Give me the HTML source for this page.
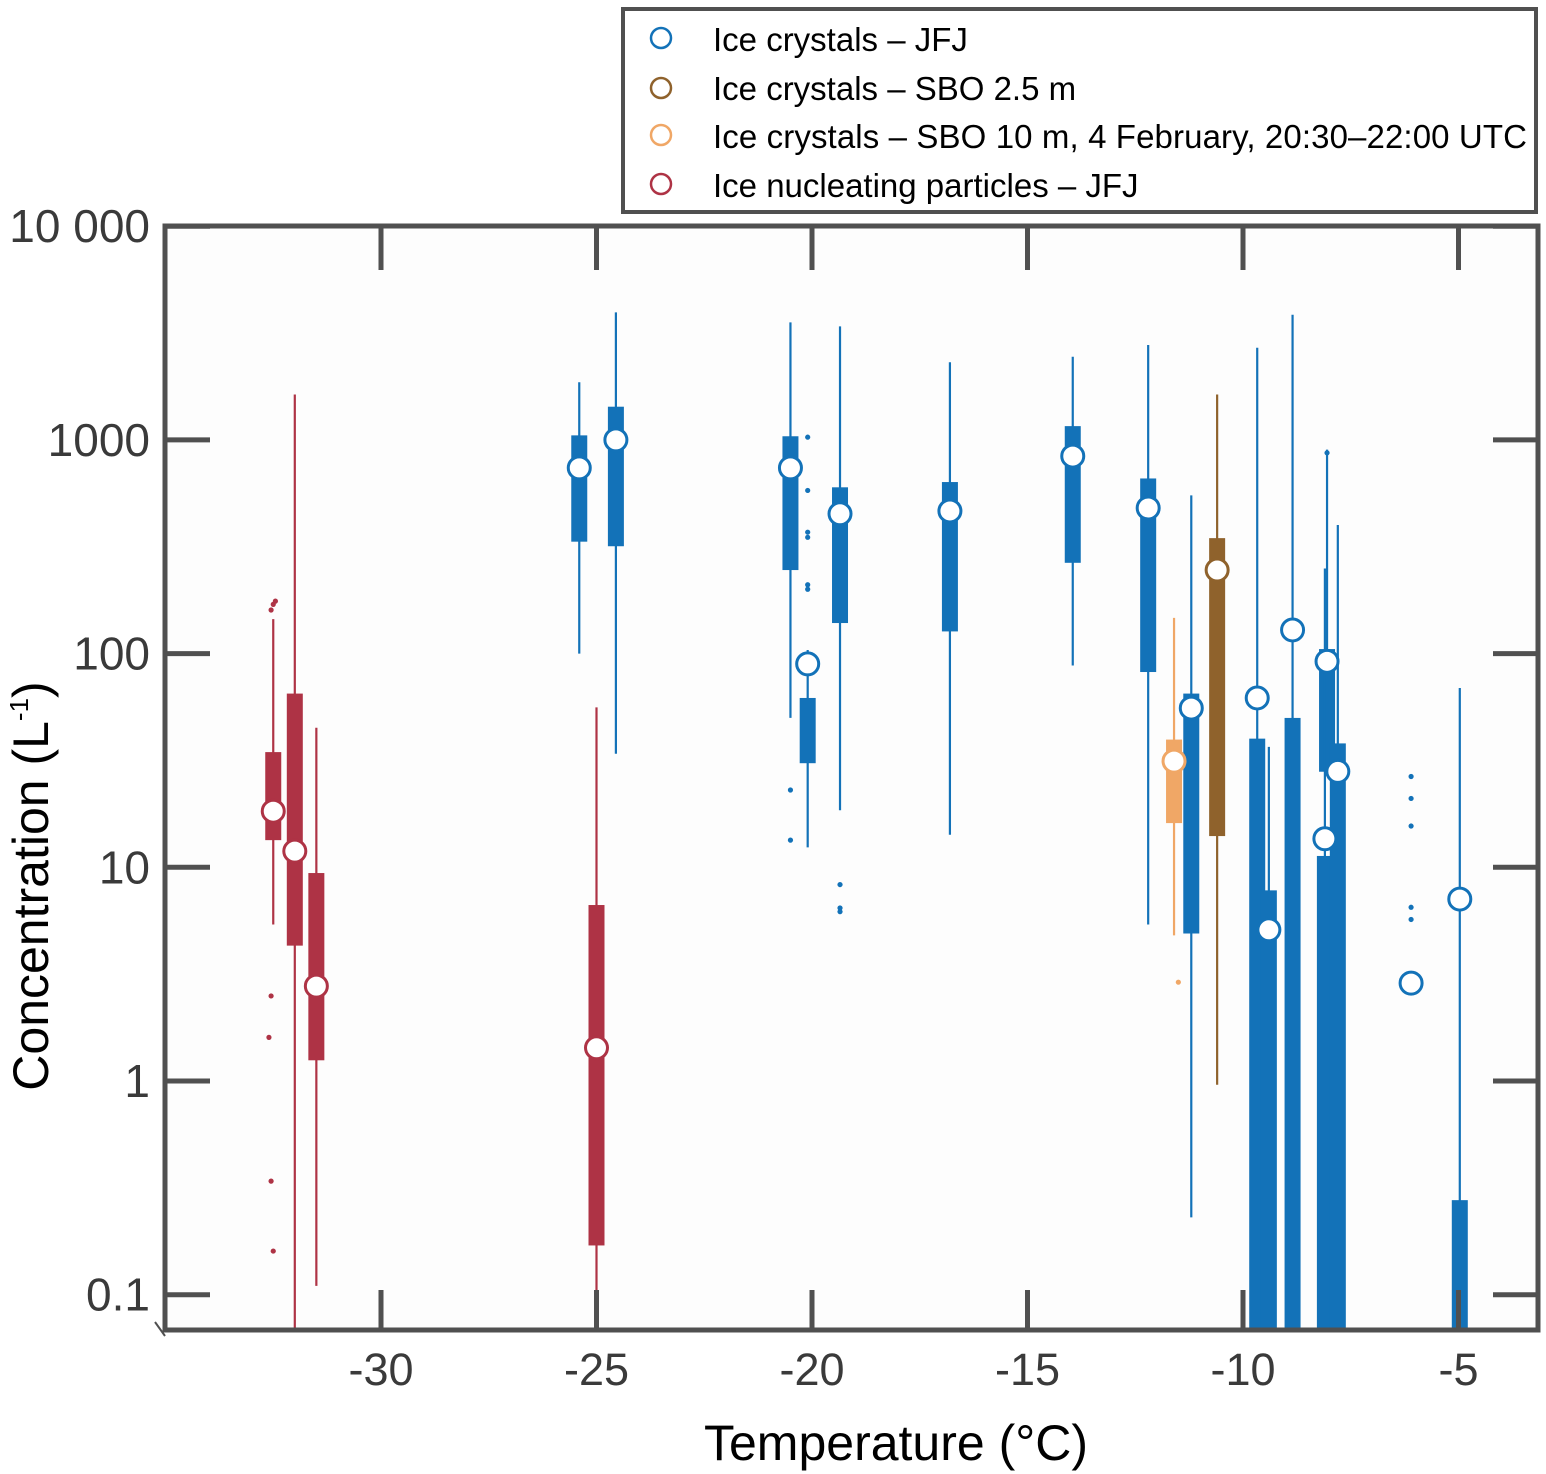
<!DOCTYPE html>
<html><head><meta charset="utf-8"><style>
body{margin:0;background:#fff;}
svg{display:block;font-family:"Liberation Sans",Arial,sans-serif;}
</style></head><body>
<svg id="chart" width="1546" height="1474" viewBox="0 0 1546 1474" xmlns="http://www.w3.org/2000/svg">
<rect x="0" y="0" width="1546" height="1474" fill="#ffffff"/>
<rect x="165" y="226" width="1373" height="1104" fill="#fdfdfd"/>
<g id="marks"></g>
<g id="axes"></g>
<text x="48" y="886" font-size="50" text-anchor="middle" transform="rotate(-90 48 886)" fill="#000">Concentration (L<tspan font-size="26" dy="-20">-1</tspan><tspan dy="20">)</tspan></text>
<text x="896" y="1460" font-size="50" text-anchor="middle" fill="#000">Temperature (°C)</text>
<g>
<rect x="623" y="9" width="913" height="203" fill="#fff" stroke="#505050" stroke-width="4"/>
<g><circle cx="661" cy="38" r="10" fill="#fff" stroke="#1372b8" stroke-width="2.5"/><text x="713" y="51" font-size="33">Ice crystals – JFJ</text></g>
<g><circle cx="661" cy="88" r="10" fill="#fff" stroke="#8f622c" stroke-width="2.5"/><text x="713" y="100" font-size="33">Ice crystals – SBO 2.5 m</text></g>
<g><circle cx="661" cy="135" r="10" fill="#fff" stroke="#f0a766" stroke-width="2.5"/><text x="713" y="148" font-size="33" textLength="814">Ice crystals – SBO 10 m, 4 February, 20:30–22:00 UTC</text></g>
<g><circle cx="661" cy="184" r="10" fill="#fff" stroke="#ae3345" stroke-width="2.5"/><text x="713" y="197" font-size="33">Ice nucleating particles – JFJ</text></g>
</g>
</svg>
<script>
// data arrays
const temps   = [-32.5,-32.0,-31.5,-25.0,-25.4,-24.55,-20.5,-20.1,-19.35,-16.8,-13.95,-12.2,-11.6,-10.6,-11.2,-9.67,-9.4,-8.85,-8.05,-8.1,-7.8,-4.97];
const groups  = ["inp","inp","inp","inp","jfj","jfj","jfj","jfj","jfj","jfj","jfj","jfj","sbo10","sbo25","jfj","jfj","jfj","jfj","jfj","jfj","jfj","jfj"];
const whiskLo = [5.4,0.07,0.11,0.01,100,34,50,12.4,18.5,14.2,88,5.4,4.8,0.96,0.23,0.01,0.01,0.01,28,0.01,0.01,0.01];
const whiskHi = [145,1630,45,56,1860,3950,3550,104,3400,2310,2450,2780,147,1630,550,2700,36.6,3850,900,250,400,69];
const q1      = [13.4,4.3,1.25,0.17,334,318,246,30.7,139,127,266,82,16.1,14,4.9,0.01,0.01,0.01,28,0.01,0.01,0.01];
const q3      = [34.6,65,9.4,6.66,1050,1430,1040,62,600,635,1160,660,39.6,347,65,40,7.8,50,105,11.3,38,0.277];
const medians = [18.3,11.9,2.78,1.43,740,1000,740,89.5,451,465,840,480,31.4,246,55.6,62,5.1,129,92,13.6,28.1,7.1];
const outlierT = [-32.55,-32.5,-32.45,-32.55,-32.6,-32.55,-32.5,-20.1,-20.1,-20.1,-20.1,-20.1,-20.1,-20.5,-20.5,-19.35,-19.35,-19.35,-11.5,-8.05,-6.1,-6.1,-6.1,-6.1,-6.1];
const outlierV = [160,170,176,2.5,1.6,0.34,0.16,1030,580,370,350,210,200,23,13.4,8.3,6.45,6.2,2.9,870,26.6,21,15.6,6.5,5.7];
const outlierG = ["inp","inp","inp","inp","inp","inp","inp","jfj","jfj","jfj","jfj","jfj","jfj","jfj","jfj","jfj","jfj","jfj","sbo10","jfj","jfj","jfj","jfj","jfj","jfj"];
const loneT = [-6.1];
const loneV = [2.87];
const xTicks = [-30,-25,-20,-15,-10,-5];
const yTicks = [0.1,1,10,100,1000,10000];
const yTickLabels = ["0.1","1","10","100","1000","10 000"];

const colors = {inp:"#ae3345",jfj:"#1372b8",sbo25:"#8f622c",sbo10:"#f0a766"};
const L=165,R=1538,T=226,B=1330;
function xs(t){return 381+(t+30)*43.1;}
function ys(v){return 1081-Math.log10(v)*213.7;}
function cl(y){return Math.max(T,Math.min(B,y));}
const NS="http://www.w3.org/2000/svg";
function mk(tag,attrs,parent){const e=document.createElementNS(NS,tag);for(const k in attrs)e.setAttribute(k,attrs[k]);parent.appendChild(e);return e;}
const marks=document.getElementById('marks');
const axes=document.getElementById('axes');

for(let i=0;i<temps.length;i++){
  const c=colors[groups[i]],x=xs(temps[i]);
  const g=mk('g',{},marks);
  
  
  const w=mk('line',{x1:x,x2:x,y1:cl(ys(whiskHi[i])),y2:cl(ys(whiskLo[i])),stroke:c,'stroke-width':2.2},g);
  
  
  const yt=cl(ys(q3[i])),yb=cl(ys(q1[i]));
  const b=mk('rect',{x:x-8,y:yt,width:16,height:yb-yt,fill:c},g);
  
  
}
for(let i=0;i<outlierT.length;i++){
  const o=mk('circle',{cx:xs(outlierT[i]),cy:ys(outlierV[i]),r:2.6,fill:colors[outlierG[i]]},marks);
  
  
}
for(let i=0;i<temps.length;i++){
  const m=mk('circle',{cx:xs(temps[i]),cy:ys(medians[i]),r:11,fill:'#fff',stroke:colors[groups[i]],'stroke-width':3},marks);
  
  
}
for(let i=0;i<loneT.length;i++){
  const m=mk('circle',{cx:xs(loneT[i]),cy:ys(loneV[i]),r:11,fill:'#fff',stroke:colors.jfj,'stroke-width':3},marks);
  
  
}
// axes frame
const ax='#505050';
const f=mk('rect',{x:L,y:T,width:R-L,height:B-T,fill:'none',stroke:ax,'stroke-width':5},axes);


mk('line',{x1:155,y1:1322,x2:165,y2:1336,stroke:ax,'stroke-width':2},axes);
xTicks.forEach(t=>{
  const x=xs(t);
  mk('line',{x1:x,x2:x,y1:T,y2:T+44,stroke:ax,'stroke-width':5},axes);
  mk('line',{x1:x,x2:x,y1:B,y2:B-40,stroke:ax,'stroke-width':5},axes);
  const tx=mk('text',{x:x,y:1385,'font-size':45,'text-anchor':'middle',fill:'#3a3a3a'},axes);
  tx.textContent=String(t);
  
  
});
yTicks.forEach((v,i)=>{
  const y=ys(v);
  mk('line',{x1:L,x2:L+45,y1:y,y2:y,stroke:ax,'stroke-width':5},axes);
  mk('line',{x1:R-45,x2:R,y1:y,y2:y,stroke:ax,'stroke-width':5},axes);
  const tx=mk('text',{x:150,y:y+16,'font-size':46,'text-anchor':'end',fill:'#3a3a3a'},axes);
  tx.textContent=yTickLabels[i];
  
  
});
</script>
</body></html>
